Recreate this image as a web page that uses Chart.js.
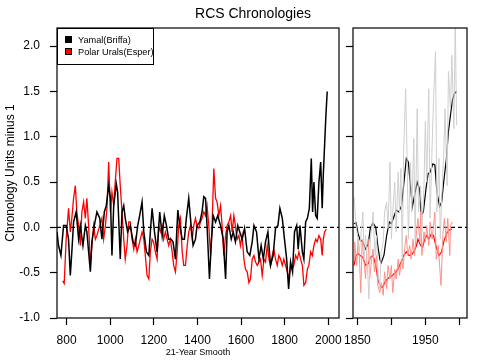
<!DOCTYPE html>
<html>
<head>
<meta charset="utf-8">
<script src="https://cdn.jsdelivr.net/npm/chart.js@4.4.1/dist/chart.umd.min.js"></script>
<style>
  html, body { margin: 0; padding: 0; background: #fff; }
  #wrap { position: relative; width: 480px; height: 360px; font-family: "Liberation Sans", Arial, sans-serif; color: #000; }
  #wrap canvas { position: absolute; left: 0; top: 0; }
  #title { position: absolute; left: 153px; width: 200px; top: 5px; text-align: center; font-size: 14px; }
  #legend { position: absolute; left: 57px; top: 28px; width: 97px; height: 37px; border: 1px solid #000; box-sizing: border-box; font-size: 9.2px; padding-top: 5px; }
  #legend div { height: 12px; line-height: 12px; white-space: nowrap; }
  #legend span.sw { display: inline-block; width: 5px; height: 5px; border: 1px solid #000; margin: 0 6px 0 7px; vertical-align: 0px; }
</style>
</head>
<body>
<div id="wrap">
  <canvas id="left" width="480" height="360"></canvas>
  <canvas id="right" width="480" height="360"></canvas>
  <div id="title">RCS Chronologies</div>
  <div id="legend"></div>
</div>
<script>
// ---- 21-year smooth, full length (left panel) ----
const yamalYears = [756, 763, 774, 786, 798, 809, 817, 824, 832, 844, 855, 863, 875, 886, 893, 909, 916, 927, 939, 952,
  962, 973, 982, 993, 1001, 1008, 1016, 1028, 1034, 1046, 1054, 1062, 1069, 1080, 1092, 1105, 1115, 1126, 1135, 1146,
  1154, 1166, 1177, 1184, 1192, 1203, 1215, 1227, 1238, 1248, 1258, 1268, 1279, 1288, 1299, 1310, 1319, 1330, 1340, 1349,
  1360, 1368, 1380, 1391, 1398, 1411, 1421, 1429, 1437, 1444, 1455, 1463, 1472, 1483, 1493, 1506, 1518, 1529, 1536, 1544,
  1555, 1564, 1574, 1585, 1594, 1605, 1616, 1628, 1640, 1651, 1659, 1671, 1682, 1692, 1702, 1712, 1723, 1735, 1747, 1758,
  1769, 1778, 1789, 1799, 1809, 1818, 1827, 1836, 1845, 1855, 1862, 1870, 1881, 1888, 1896, 1904, 1913, 1922, 1928, 1934,
  1942, 1949, 1957, 1965, 1972, 1977, 1983, 1989, 1995];
const yamalSmooth = [-0.05, -0.20, -0.31, 0.02, 0.02, -0.13, -0.53, -0.27, 0.06, 0.17, -0.13, 0.02, -0.20, 0.02, -0.05, -0.49, -0.16, 0.02, 0.17, 0.10,
  -0.13, 0.17, 0.24, 0.46, 0.32, -0.31, 0.24, 0.48, 0.39, -0.35, 0.17, 0.24, 0.10, -0.05, 0.02, -0.16, -0.20, 0.02, 0.13, 0.28,
  -0.05, -0.27, -0.31, -0.05, 0.21, -0.05, -0.27, 0.17, -0.09, 0.13, 0.02, -0.13, -0.13, -0.16, -0.35, 0.19, 0.02, -0.13, -0.13, 0.10,
  0.32, 0.10, -0.20, -0.13, 0.02, 0.06, 0.17, 0.34, 0.32, 0.02, -0.57, -0.20, 0.13, 0.06, 0.13, 0.02, -0.13, -0.57, -0.05, 0.02,
  -0.13, -0.05, -0.16, 0.02, -0.05, -0.13, -0.01, -0.27, -0.31, -0.16, 0.02, -0.05, -0.35, -0.20, -0.35, -0.16, -0.05, -0.42, -0.31, -0.01,
  0.02, 0.21, 0.10, -0.13, -0.35, -0.68, -0.38, -0.49, -0.05, 0.02, -0.24, 0.02, -0.27, -0.35, 0.06, 0.10, 0.21, 0.76, 0.17, 0.50,
  0.13, 0.10, 0.50, 0.72, 0.21, 0.58, 0.91, 1.24, 1.50];

const uralsYears = [782, 789, 798, 809, 817, 824, 832, 840, 847, 855, 863, 870, 878, 886, 893, 901, 909, 916, 924, 932,
  939, 952, 962, 970, 978, 985, 993, 1001, 1008, 1016, 1023, 1031, 1039, 1046, 1054, 1062, 1069, 1077, 1085, 1092,
  1100, 1108, 1115, 1123, 1131, 1138, 1146, 1154, 1161, 1169, 1177, 1184, 1192, 1199, 1207, 1215, 1222, 1230, 1238, 1245,
  1253, 1261, 1268, 1276, 1284, 1291, 1299, 1307, 1314, 1322, 1330, 1337, 1345, 1353, 1360, 1368, 1376, 1383, 1391, 1398,
  1406, 1414, 1421, 1429, 1437, 1444, 1452, 1460, 1467, 1475, 1483, 1490, 1498, 1506, 1513, 1521, 1529, 1536, 1544, 1552,
  1559, 1567, 1574, 1582, 1590, 1597, 1605, 1613, 1620, 1628, 1636, 1643, 1651, 1659, 1666, 1674, 1682, 1689, 1697, 1705,
  1712, 1720, 1728, 1735, 1743, 1750, 1758, 1766, 1773, 1781, 1789, 1796, 1804, 1812, 1819, 1827, 1835, 1842, 1850, 1858,
  1865, 1873, 1881, 1888, 1896, 1904, 1911, 1919, 1927, 1934, 1942, 1949, 1957, 1965, 1972, 1977, 1983, 1991];
const uralsSmooth = [-0.59, -0.62, -0.13, 0.21, -0.05, 0.10, 0.32, 0.46, 0.17, 0.02, -0.20, 0.17, 0.28, 0.10, 0.32, 0.02, -0.42, -0.20, 0.02, -0.13,
  -0.09, 0.02, 0.10, -0.13, 0.02, 0.21, 0.72, 0.17, 0.39, 0.24, 0.50, 0.76, 0.76, 0.46, 0.17, -0.13, -0.35, -0.20, 0.06, 0.06,
  -0.13, -0.24, -0.13, -0.27, -0.20, -0.13, -0.05, -0.13, -0.31, -0.53, -0.57, -0.27, -0.13, -0.16, -0.27, -0.35, 0.02, -0.05, 0.02, -0.13,
  -0.05, -0.13, -0.20, -0.13, -0.27, -0.42, -0.49, -0.27, 0.02, 0.10, -0.27, -0.42, -0.42, -0.20, -0.05, 0.02, -0.13, 0.02, 0.10, 0.02,
  -0.01, 0.06, 0.10, 0.17, 0.13, 0.24, 0.02, -0.31, 0.02, 0.65, 0.32, 0.28, 0.13, 0.24, 0.02, -0.31, -0.09, 0.02, 0.06, 0.13,
  -0.05, 0.13, 0.02, -0.13, -0.09, -0.20, -0.09, -0.35, -0.46, -0.49, -0.61, -0.57, -0.35, -0.31, -0.38, -0.42, -0.38, -0.35, -0.53, -0.35,
  -0.38, -0.20, -0.35, -0.42, -0.31, -0.24, -0.35, -0.42, -0.31, -0.35, -0.42, -0.35, -0.42, -0.49, -0.57, -0.42, -0.46, -0.42, -0.31, -0.35,
  -0.27, -0.35, -0.42, -0.64, -0.61, -0.46, -0.42, -0.27, -0.31, -0.20, -0.13, -0.16, -0.09, -0.13, -0.31, -0.13, -0.05, -0.02];

// ---- recent period (right panel) ----
const yamalRecentYears = [1845, 1848, 1851, 1854, 1858, 1862, 1866, 1869, 1873, 1877, 1880, 1883, 1885, 1889, 1893, 1897, 1900, 1903, 1907, 1911,
  1915, 1918, 1922, 1925, 1928, 1931, 1934, 1938, 1941, 1944, 1947, 1951, 1954, 1957, 1961, 1964, 1967, 1971, 1974, 1977,
  1981, 1984, 1987, 1990, 1993, 1996];
const yamalRecentSmooth = [0.04, 0.05, -0.07, -0.14, -0.16, -0.24, -0.18, -0.01, 0.05, 0.00, -0.20, -0.35, -0.39, -0.31, -0.09, 0.06, 0.04, 0.10, 0.19, 0.17,
  0.24, 0.46, 0.76, 0.72, 0.46, 0.23, 0.35, 0.50, 0.43, 0.13, 0.17, 0.43, 0.59, 0.61, 0.70, 0.69, 0.39, 0.23, 0.28, 0.50,
  0.76, 1.06, 1.24, 1.41, 1.48, 1.50];
const yamalAnnualYears = [1845, 1848, 1851, 1853, 1856, 1858, 1860, 1862, 1864, 1867, 1869, 1872, 1873, 1876, 1878, 1880, 1883, 1885, 1888, 1890,
  1893, 1895, 1898, 1900, 1902, 1905, 1907, 1910, 1912, 1914, 1916, 1918, 1921, 1923, 1925, 1928, 1930, 1933, 1935, 1938,
  1940, 1943, 1945, 1948, 1950, 1952, 1955, 1957, 1960, 1962, 1965, 1967, 1970, 1972, 1974, 1977, 1979, 1982, 1984, 1987,
  1989, 1992, 1994, 1996];
const yamalAnnual = [0.34, 0.02, -0.13, -0.27, -0.01, 0.17, -0.35, -0.09, -0.31, -0.79, -0.13, 0.06, 0.17, -0.31, -0.09, -0.46, -0.68, -0.27, -0.16, 0.17,
  0.28, -0.01, 0.72, -0.13, 0.17, 0.50, -0.05, 0.61, 0.17, 0.65, -0.35, 0.83, 1.53, 0.83, -0.13, 0.72, 0.17, 0.98, -0.13, 1.31,
  0.17, 0.46, -0.05, 0.46, 1.17, 0.50, 1.53, 0.10, 0.91, 1.39, 1.94, 0.17, 0.76, -0.13, 0.32, 0.80, 1.31, 0.46, 1.72, 1.31,
  1.90, 1.09, 2.30, 1.13];

const uralsRecentYears = [1845, 1848, 1851, 1854, 1858, 1862, 1866, 1869, 1873, 1877, 1880, 1884, 1887, 1890, 1894, 1897, 1900, 1903, 1907, 1911,
  1915, 1918, 1922, 1926, 1929, 1933, 1937, 1939, 1943, 1946, 1949, 1952, 1955, 1959, 1962, 1966, 1970, 1974, 1977, 1981,
  1985, 1989];
const uralsRecentSmooth = [-0.42, -0.31, -0.29, -0.31, -0.33, -0.42, -0.40, -0.33, -0.31, -0.42, -0.57, -0.66, -0.66, -0.61, -0.57, -0.55, -0.54, -0.52, -0.49, -0.44,
  -0.37, -0.31, -0.27, -0.31, -0.31, -0.27, -0.20, -0.13, -0.20, -0.22, -0.13, -0.09, -0.13, -0.07, -0.09, -0.22, -0.31, -0.27, -0.16, -0.07,
  -0.03, -0.02];
const uralsAnnualYears = [1845, 1846, 1849, 1851, 1853, 1855, 1857, 1859, 1862, 1864, 1866, 1868, 1871, 1873, 1875, 1878, 1880, 1883, 1885, 1888,
  1890, 1893, 1895, 1898, 1900, 1902, 1905, 1907, 1910, 1912, 1915, 1917, 1920, 1922, 1924, 1927, 1929, 1932, 1934, 1937,
  1939, 1942, 1943, 1945, 1948, 1950, 1952, 1955, 1957, 1960, 1962, 1964, 1966, 1969, 1971, 1973, 1976, 1978, 1981, 1983,
  1986, 1987, 1990];
const uralsAnnual = [-0.35, -0.16, -0.42, -0.13, -0.35, -0.72, -0.13, -0.31, -0.57, -0.20, -0.13, -0.57, -0.35, -0.24, -0.49, -0.31, -0.64, -0.72, -0.61, -0.75,
  -0.49, -0.68, -0.42, -0.57, -0.42, -0.72, -0.46, -0.57, -0.35, -0.53, -0.35, -0.46, -0.20, -0.09, -0.31, -0.20, -0.35, -0.13, -0.31, -0.05,
  0.10, -0.16, 0.17, -0.31, -0.05, -0.16, 0.02, -0.20, 0.06, -0.13, 0.02, 0.17, -0.35, -0.20, -0.42, -0.64, -0.05, 0.10, -0.16, 0.10,
  -0.31, 0.02, 0.06];

const yTicks = [-1.0, -0.5, 0.0, 0.5, 1.0, 1.5, 2.0];
const leftTicks = [800, 1000, 1200, 1400, 1600, 1800, 2000];
const rightTicks = [1850, 1900, 1950, 2000];
const rightLabels = [1850, 1950];

const FONT = "'Liberation Sans', Arial, sans-serif";
const pts = (xs, ys) => xs.map((x, i) => ({ x: x, y: ys[i] }));

// dashed zero line + box round the plot
const frame = {
  id: 'frame',
  beforeDatasetsDraw(chart) {
    const { ctx, chartArea: a, scales } = chart;
    const y0 = scales.y.getPixelForValue(0);
    ctx.save();
    ctx.strokeStyle = '#000';
    ctx.lineWidth = 1.2;
    ctx.setLineDash([4, 3]);
    ctx.beginPath();
    ctx.moveTo(a.left, y0);
    ctx.lineTo(a.right, y0);
    ctx.stroke();
    ctx.restore();
  },
  afterDraw(chart) {
    const { ctx, chartArea: a } = chart;
    ctx.save();
    ctx.strokeStyle = '#000';
    ctx.lineWidth = 1.2;
    ctx.strokeRect(a.left, a.top, a.right - a.left, a.bottom - a.top);
    ctx.restore();
  }
};

function xAxis(min, max, ticks, labels, title) {
  return {
    type: 'linear', min: min, max: max,
    afterBuildTicks: (s) => { s.ticks = ticks.map(v => ({ value: v })); },
    afterFit: (s) => { s.height = 42; s.paddingLeft = 0; s.paddingRight = 0; },
    grid: { drawOnChartArea: false, tickLength: 7, tickColor: '#000', tickWidth: 1.2 },
    border: { display: false },
    ticks: {
      color: '#000', padding: 8, maxRotation: 0, autoSkip: false,
      font: { family: FONT, size: 12 },
      callback: (v) => labels.includes(v) ? String(v) : ''
    },
    title: title ? { display: true, text: title, color: '#000', font: { family: FONT, size: 9 }, padding: { top: 0, bottom: 2 } } : { display: false }
  };
}

function yAxis(width, showLabels) {
  return {
    type: 'linear', min: -1.0, max: 2.2,
    afterBuildTicks: (s) => { s.ticks = yTicks.map(v => ({ value: v })); },
    afterFit: (s) => { s.width = width; s.paddingTop = 0; s.paddingBottom = 0; },
    grid: { drawOnChartArea: false, tickLength: 7, tickColor: '#000', tickWidth: 1.2 },
    border: { display: false },
    ticks: {
      display: showLabels, color: '#000', padding: 10,
      font: { family: FONT, size: 12 },
      callback: (v) => v.toFixed(1)
    },
    title: showLabels ? { display: true, text: 'Chronology Units minus 1', color: '#000', font: { family: FONT, size: 12 }, padding: { top: 3, bottom: 0 } } : { display: false }
  };
}

const common = {
  responsive: false,
  animation: false,
  events: [],
  plugins: { legend: { display: false }, tooltip: { enabled: false } },
  elements: { point: { radius: 0 }, line: { tension: 0 } }
};

const leftSets = [
  { label: 'Yamal(Briffa)', data: pts(yamalYears, yamalSmooth), borderColor: '#000', backgroundColor: '#000', borderWidth: 1.5 },
  { label: 'Polar Urals(Esper)', data: pts(uralsYears, uralsSmooth), borderColor: '#ff0000', backgroundColor: '#ff0000', borderWidth: 1.3 }
];

new Chart(document.getElementById('left'), {
  type: 'line',
  data: { datasets: leftSets },
  options: Object.assign({}, common, {
    layout: { padding: { left: 0, top: 28, right: 141, bottom: 0 } },
    scales: {
      x: xAxis(756, 2049, leftTicks, leftTicks, '21-Year Smooth'),
      y: yAxis(57, true)
    }
  }),
  plugins: [frame]
});

new Chart(document.getElementById('right'), {
  type: 'line',
  data: {
    datasets: [
      { label: 'Yamal annual', data: pts(yamalAnnualYears, yamalAnnual), borderColor: '#cfcfcf', borderWidth: 1 },
      { label: 'Polar Urals annual', data: pts(uralsAnnualYears, uralsAnnual), borderColor: '#ff9088', borderWidth: 1 },
      { label: 'Yamal smooth', data: pts(yamalRecentYears, yamalRecentSmooth), borderColor: '#000', borderWidth: 1.2 },
      { label: 'Polar Urals smooth', data: pts(uralsRecentYears, uralsRecentSmooth), borderColor: '#ff0000', borderWidth: 1.2 }
    ]
  },
  options: Object.assign({}, common, {
    layout: { padding: { left: 343, top: 28, right: 13, bottom: 0 } },
    scales: {
      x: xAxis(1843.5, 2011.3, rightTicks, rightLabels, null),
      y: yAxis(10, false)
    }
  }),
  plugins: [frame]
});

// legend box from the left panel's datasets
document.getElementById('legend').innerHTML = leftSets.map(d =>
  '<div><span class="sw" style="background:' + d.backgroundColor + '"></span>' + d.label + '</div>'
).join('');
</script>
</body>
</html>
